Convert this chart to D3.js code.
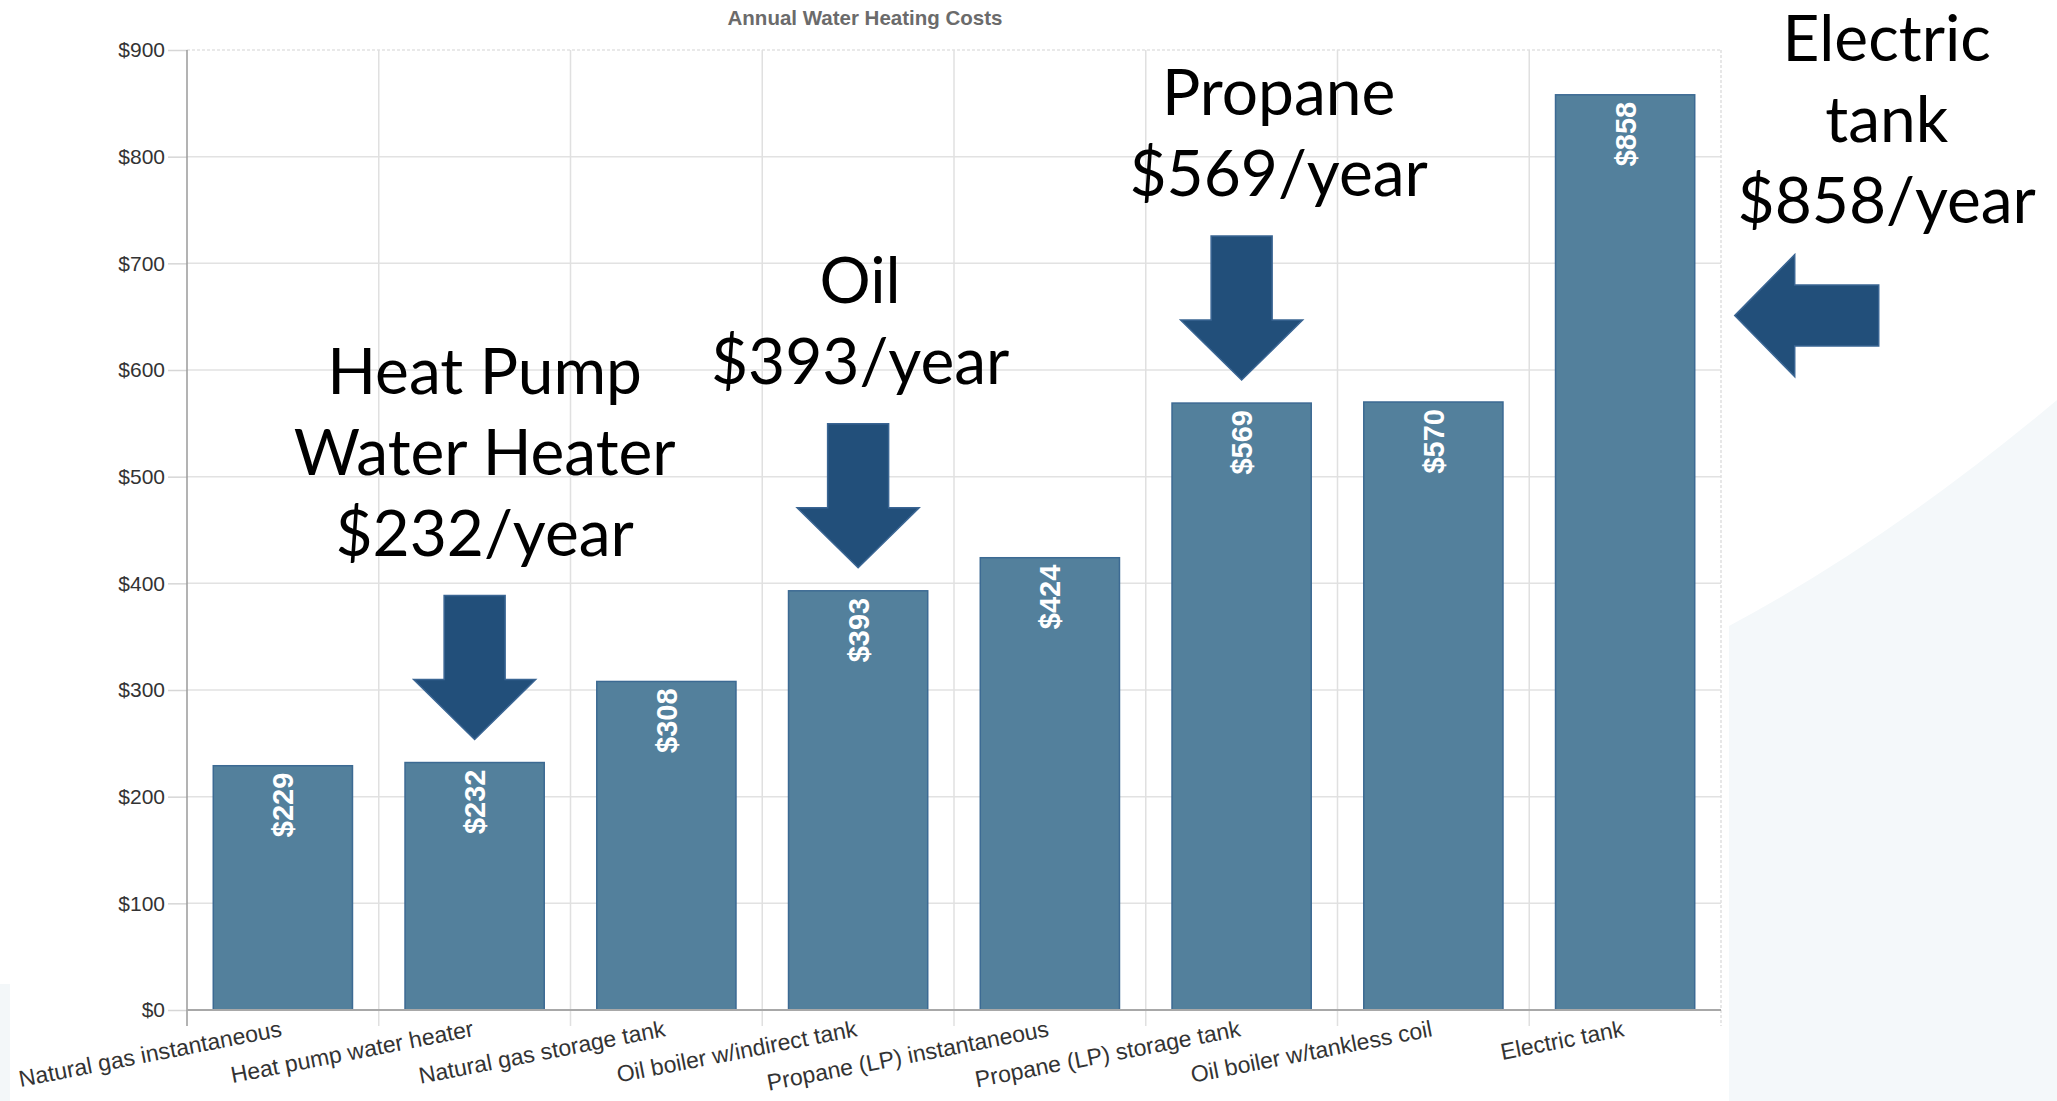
<!DOCTYPE html>
<html>
<head>
<meta charset="utf-8">
<script src="https://cdn.jsdelivr.net/npm/d3@7"></script>
<style>
  html, body { margin: 0; padding: 0; background: #fff; }
  svg { display: block; }
</style>
</head>
<body>
<svg class="chart"></svg>
<script>
var categories = [
  "Natural gas instantaneous",
  "Heat pump water heater",
  "Natural gas storage tank",
  "Oil boiler w/indirect tank",
  "Propane (LP) instantaneous",
  "Propane (LP) storage tank",
  "Oil boiler w/tankless coil",
  "Electric tank"
];
var costs = [229, 232, 308, 393, 424, 569, 570, 858];
var yTicks = [0, 100, 200, 300, 400, 500, 600, 700, 800, 900];
var chartTitle = "Annual Water Heating Costs";

// callouts: text lines and the bar they point at
var calloutLines = [
  ["Heat Pump", "Water Heater", "$232/year"],
  ["Oil", "$393/year"],
  ["Propane", "$569/year"],
  ["Electric", "tank", "$858/year"]
];
var calloutTargets = ["Heat pump water heater", "Oil boiler w/indirect tank", "Propane (LP) storage tank", "Electric tank"];
var calloutValues = [232, 393, 569, 858];

var W = 2057, H = 1101;
var margin = {top: 50, right: 336, bottom: 91, left: 187},
    width = W - margin.left - margin.right,
    height = H - margin.top - margin.bottom;

var svg = d3.select('.chart').attr('width', W).attr('height', H);

// pale slide decorations
svg.append("path")
  .attr("d", "M1729," + H + " L1729,626 Q1890,540 " + W + ",400 L" + W + "," + H + " Z")
  .style("fill", "#f4f8fa");
svg.append("rect")
  .attr("x", 0).attr("y", 984).attr("width", 10).attr("height", H - 984)
  .style("fill", "#f3f7f9");

var x = d3.scaleBand().domain(categories).range([0, width]).padding(0);
var y = d3.scaleLinear().domain([0, 900]).range([height, 0]);

var chart = svg.append("g")
  .attr("transform", "translate(" + margin.left + "," + margin.top + ")");

chart.append("text")
  .attr("x", 678)
  .attr("y", -25)
  .attr("text-anchor", "middle")
  .style("font-family", "'Liberation Sans', Arial, sans-serif")
  .style("font-weight", "bold")
  .style("font-size", "20.5px")
  .style("fill", "#6b6b6b")
  .text(chartTitle);

// horizontal grid + y axis
var yAxis = d3.axisLeft(y).tickValues(yTicks).tickSize(19).tickPadding(3)
  .tickFormat(function(d) { return "$" + d; });
var yAxisG = chart.append("g").attr("class", "y axis").call(yAxis);
yAxisG.select(".domain").remove();
yAxisG.selectAll(".tick line").style("stroke", "#d6d6d6").style("stroke-width", 1.5);
yAxisG.selectAll("text")
  .style("font-family", "'Liberation Sans', Arial, sans-serif")
  .style("font-size", "21px")
  .style("fill", "#333");

chart.append("g").selectAll("line")
  .data(yTicks)
  .enter().append("line")
  .attr("x1", 0).attr("x2", width)
  .attr("y1", function(d) { return y(d); })
  .attr("y2", function(d) { return y(d); })
  .style("stroke", "#e2e2e2")
  .style("stroke-width", 1.5)
  .style("stroke-dasharray", function(d) { return d === 900 ? "3,2" : null; });

// vertical grid at band edges
var edges = categories.map(function(c) { return x(c); }).concat([width]);
chart.append("g").selectAll("line")
  .data(edges)
  .enter().append("line")
  .attr("x1", function(d) { return d; })
  .attr("x2", function(d) { return d; })
  .attr("y1", 0)
  .attr("y2", height + 16)
  .style("stroke", function(d, i) { return i === 0 ? "#9a9a9a" : "#e0e0e0"; })
  .style("stroke-width", 1.5)
  .style("stroke-dasharray", function(d, i) { return i === edges.length - 1 ? "3,2" : null; });

// bars
var bw = x.bandwidth();
var g = chart.selectAll(".bar")
  .data(costs)
  .enter()
  .append("g");

g.append("rect")
  .attr("class", "bar")
  .attr("x", function(d, i) { return x(categories[i]) + bw * 0.137; })
  .attr("y", function(d) { return y(d); })
  .attr("width", bw * 0.726)
  .attr("height", function(d) { return height - y(d); })
  .style("fill", "#53809c")
  .style("stroke", "#3c6a93")
  .style("stroke-width", 1.5);

g.append("text")
  .attr("transform", function(d, i) {
    return "translate(" + (x(categories[i]) + bw / 2) + "," + (y(d) + 7) + ") rotate(-90)";
  })
  .attr("text-anchor", "end")
  .attr("dy", "0.36em")
  .style("font-family", "'Liberation Sans', Arial, sans-serif")
  .style("font-weight", "bold")
  .style("font-size", "29px")
  .style("fill", "#fff")
  .text(function(d) { return "$" + d; });

// x axis baseline + labels
chart.append("line")
  .attr("x1", 0).attr("x2", width)
  .attr("y1", height).attr("y2", height)
  .style("stroke", "#a8a8a8")
  .style("stroke-width", 2);

chart.append("g").selectAll("text")
  .data(categories)
  .enter().append("text")
  .attr("transform", function(d) {
    return "translate(" + (x(d) + bw / 2) + "," + (height + 26) + ") rotate(-11)";
  })
  .attr("text-anchor", "end")
  .style("font-family", "'Liberation Sans', Arial, sans-serif")
  .style("font-size", "23px")
  .style("fill", "#333")
  .text(function(d) { return d; });

// callout arrows and text
var arrowFill = "#224f7a", arrowStroke = "#3a6593";
var L = 144, head = 60, shaft = 30.5, wing = 61;

function downArrow(tx, ty) {
  return [[tx - shaft, ty - L], [tx + shaft, ty - L], [tx + shaft, ty - head],
          [tx + wing, ty - head], [tx, ty], [tx - wing, ty - head], [tx - shaft, ty - head]];
}
function leftArrow(tx, ty) {
  return [[tx + L, ty - shaft], [tx + L, ty + shaft], [tx + head, ty + shaft],
          [tx + head, ty + wing], [tx, ty], [tx + head, ty - wing], [tx + head, ty - shaft]];
}

var textDx = [10, 2, 37, 0];
var lineH = 81;

calloutLines.forEach(function(lines, k) {
  var cx = x(calloutTargets[k]) + bw / 2;
  var pts, tx, tyBase;
  if (k < 3) {
    var tipY = margin.top + y(calloutValues[k]) - 23;
    var tipX = margin.left + cx;
    pts = downArrow(tipX, tipY);
    tx = tipX + textDx[k];
    tyBase = tipY - L - 40;
  } else {
    var tipX2 = margin.left + cx + bw * 0.363 + 40;
    var tipY2 = margin.top + y(651);
    pts = leftArrow(tipX2, tipY2);
    tx = tipX2 + 152;
    tyBase = tipY2 - 93;
  }
  svg.append("polygon")
    .attr("points", pts.map(function(p) { return p.join(","); }).join(" "))
    .style("fill", arrowFill)
    .style("stroke", arrowStroke)
    .style("stroke-width", 1.5);

  svg.append("g").selectAll("text")
    .data(lines)
    .enter().append("text")
    .attr("x", tx)
    .attr("y", function(d, i) { return tyBase - (lines.length - 1 - i) * lineH; })
    .attr("text-anchor", "middle")
    .style("font-family", "Lato, 'Open Sans', sans-serif")
    .style("font-size", "64px")
    .style("fill", "#000")
    .text(function(d) { return d; });
});
</script>
</body>
</html>
